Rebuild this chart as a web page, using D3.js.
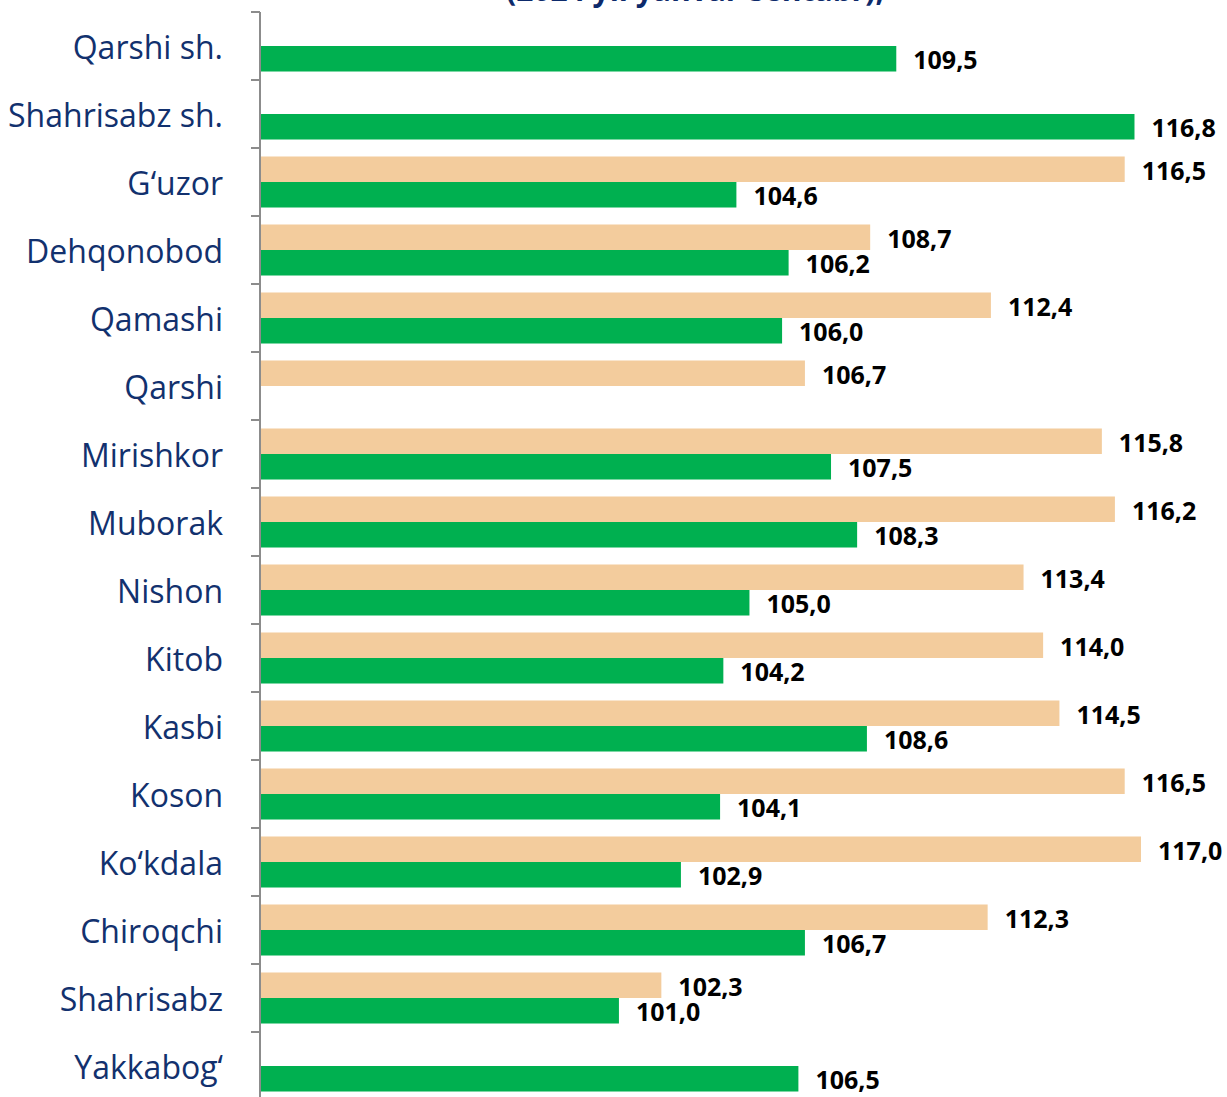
<!DOCTYPE html>
<html><head><meta charset="utf-8">
<script src="https://cdn.jsdelivr.net/npm/d3@7"></script>
<style>body{margin:0;background:#fff}</style>
</head><body>
<svg id="c" width="1227" height="1097"></svg>
<script>
const categories = ["Qarshi sh.","Shahrisabz sh.","G‘uzor","Dehqonobod","Qamashi","Qarshi","Mirishkor","Muborak","Nishon","Kitob","Kasbi","Koson","Ko‘kdala","Chiroqchi","Shahrisabz","Yakkabog‘"];
const seriesBeige = [null,null,116.5,108.7,112.4,106.7,115.8,116.2,113.4,114.0,114.5,116.5,117.0,112.3,102.3,null];
const seriesGreen = [109.5,116.8,104.6,106.2,106.0,null,107.5,108.3,105.0,104.2,108.6,104.1,102.9,106.7,101.0,106.5];
const titleText = "(2024 yil yanvar-sentabr),";

const svg = d3.select("#c");
const x = d3.scaleLinear().domain([90,120]).range([260, 260+30*32.63]);
const y = d3.scaleBand().domain(categories).range([12, 12+68*16]).paddingInner(0).paddingOuter(0);
const inner = d3.scaleBand().domain(["beige","green"]).range([0, y.bandwidth()]).paddingOuter(0.333).paddingInner(0);
const colors = {beige:"#f3cc9d", green:"#00b050"};

svg.append("text").attr("x",695).attr("y",1).attr("text-anchor","middle")
  .attr("font-family","Open Sans").attr("font-weight","bold").attr("font-size",30).attr("fill","#0d2a6b").text(titleText);

const rows = categories.map((c,i)=>({c, beige:seriesBeige[i], green:seriesGreen[i]}));
const g = svg.append("g");
rows.forEach(r=>{
  ["beige","green"].forEach(k=>{
    if(r[k]==null) return;
    const yy = y(r.c)+inner(k);
    g.append("rect").attr("x",x(90)).attr("y",yy).attr("width",x(r[k])-x(90)).attr("height",inner.bandwidth()).attr("fill",colors[k]);
    g.append("text").attr("x",x(r[k])+17).attr("y",yy+inner.bandwidth()/2+1.5).attr("dy","0.36em")
      .attr("font-family","Open Sans").attr("font-weight","bold").attr("font-size",25)
      .attr("fill","#000")
      .text(d3.format(".1f")(r[k]).replace(".",","));
  });
  svg.append("text").attr("x",223).attr("y",y(r.c)+y.bandwidth()/2+1).attr("dy","0.36em").attr("text-anchor","end")
    .attr("font-family","Open Sans").attr("font-size",32).attr("fill","#12316e").text(r.c);
});

// axis
const ax = svg.append("g").attr("stroke","#8c8c8c").attr("stroke-width",2);
ax.append("line").attr("x1",x(90)).attr("x2",x(90)).attr("y1",y.range()[0]).attr("y2",y.range()[1]);
const tickYs = categories.map(c=>y(c)).concat([y.range()[1]]);
tickYs.forEach(t=>ax.append("line").attr("x1",x(90)-9).attr("x2",x(90)).attr("y1",t).attr("y2",t));
</script>
</body></html>
